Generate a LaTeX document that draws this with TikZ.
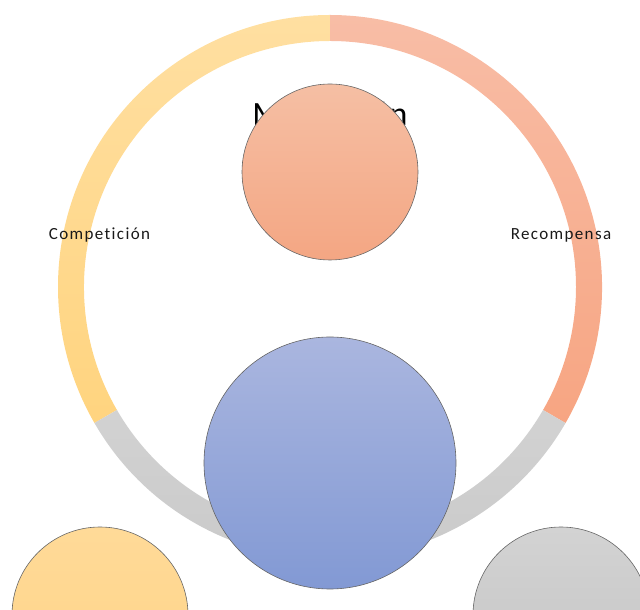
\documentclass[tikz,border=0pt]{standalone}
\usepackage{fontspec}
\setmainfont{Carlito}
\newfontfamily\spaced[LetterSpace=8,Ligatures={NoCommon}]{Carlito}
\begin{document}
\begin{tikzpicture}[x=1pt,y=1pt,
  bubble/.style={circle,draw=black!60,line width=0.6pt,inner sep=0pt},
  lbl/.style={font=\spaced\fontsize{17}{20}\selectfont,text=black!90,inner sep=0pt,anchor=base}]
\useasboundingbox (0,0) rectangle (640,610);
\definecolor{ryel1}{HTML}{FFDFA1}\definecolor{ryel2}{HTML}{FFD47F}
\definecolor{rora1}{HTML}{F8BDA6}\definecolor{rora2}{HTML}{F7A582}
\definecolor{rgry1}{HTML}{D2D2D2}\definecolor{rgry2}{HTML}{C8C8C8}
% ring segments
\shade[top color=ryel1, bottom color=ryel2]
  ([shift={(330,323)}]90:272) arc[start angle=90,end angle=210,radius=272]
  -- ([shift={(330,323)}]210:246) arc[start angle=210,end angle=90,radius=246] -- cycle;
\shade[top color=rora1, bottom color=rora2]
  ([shift={(330,323)}]-30:272) arc[start angle=-30,end angle=90,radius=272]
  -- ([shift={(330,323)}]90:246) arc[start angle=90,end angle=-30,radius=246] -- cycle;
\shade[top color=rgry1, bottom color=rgry2]
  ([shift={(330,323)}]210:272) arc[start angle=210,end angle=330,radius=272]
  -- ([shift={(330,323)}]330:246) arc[start angle=330,end angle=210,radius=246] -- cycle;
% title (mostly hidden behind the top circle)
\node[font=\fontsize{34}{38}\selectfont,inner sep=0pt,anchor=base] (title) at (330,484) {Motivación};
% labels
\node[lbl] (comp) at (99.5,370) {Competición};
\node[lbl] (rec) at (561,370) {Recompensa};
% circles
\definecolor{c1a}{HTML}{F5BFA4}\definecolor{c1b}{HTML}{F4A683}
\definecolor{c2a}{HTML}{AAB6DF}\definecolor{c2b}{HTML}{8299D4}
\definecolor{c3a}{HTML}{FFDA98}\definecolor{c3b}{HTML}{FFD487}
\definecolor{c4a}{HTML}{D3D3D3}\definecolor{c4b}{HTML}{C3C3C3}
\node[bubble,minimum size=176,top color=c1a,bottom color=c1b] (top) at (330,438) {};
\node[bubble,minimum size=252,top color=c2a,bottom color=c2b] (center) at (330,147) {};
\node[bubble,minimum size=176,top color=c3a,bottom color=c3b] (left) at (100,-5) {};
\node[bubble,minimum size=176,top color=c4a,bottom color=c4b] (right) at (561,-5) {};
\end{tikzpicture}
\end{document}
